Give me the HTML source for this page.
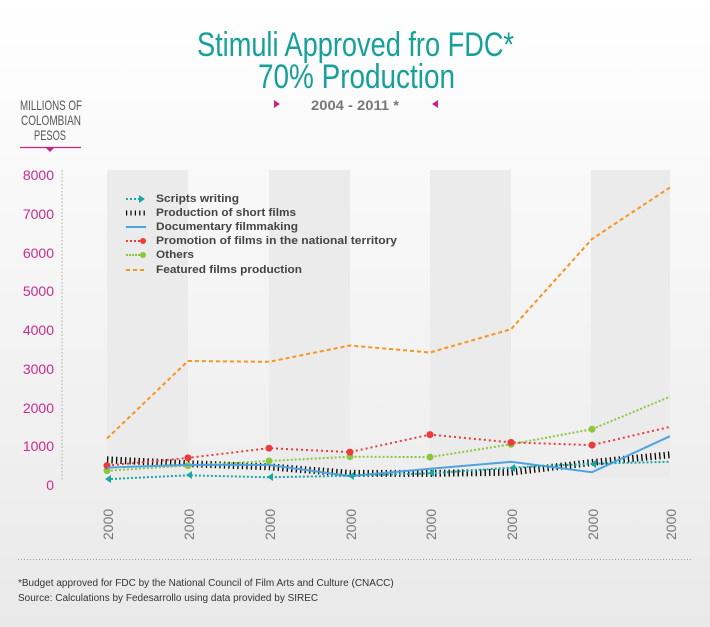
<!DOCTYPE html>
<html><head><meta charset="utf-8"><style>
html,body{margin:0;padding:0;}
body{width:710px;height:627px;overflow:hidden;background:linear-gradient(#ffffff 0%,#f6f6f6 40%,#e9e9e9 100%);font-family:"Liberation Sans",sans-serif;}
</style></head><body>
<svg width="710" height="627" xmlns="http://www.w3.org/2000/svg" style="position:absolute;left:0;top:0">
<text x="197" y="56" font-size="34" fill="#17a09a" textLength="317" lengthAdjust="spacingAndGlyphs">Stimuli Approved fro FDC*</text>
<text x="258" y="88" font-size="34" fill="#17a09a" textLength="197" lengthAdjust="spacingAndGlyphs">70% Production</text>
<text x="311" y="110" font-size="14" font-weight="bold" fill="#777" textLength="88" lengthAdjust="spacingAndGlyphs">2004 - 2011 *</text>
<polygon points="274,100 280,104 274,108" fill="#c8258a"/>
<polygon points="438,100 432,104 438,108" fill="#c8258a"/>
<g font-size="14" fill="#555">
<text x="20" y="110" textLength="62" lengthAdjust="spacingAndGlyphs">MILLIONS OF</text><text x="21" y="125" textLength="60" lengthAdjust="spacingAndGlyphs">COLOMBIAN</text><text x="34" y="140" textLength="32" lengthAdjust="spacingAndGlyphs">PESOS</text></g>
<line x1="20" y1="147.5" x2="81" y2="147.5" stroke="#c8258a" stroke-width="1.2"/>
<polygon points="46,148 54,148 50,152" fill="#c8258a"/>
<g fill="#ebebeb"><rect x="107" y="170" width="81" height="308"/><rect x="269" y="170" width="81" height="308"/><rect x="430" y="170" width="81" height="308"/><rect x="591" y="170" width="79" height="308"/></g>
<line x1="62" y1="170" x2="62" y2="480" stroke="#aaa" stroke-dasharray="1.5 2"/>
<g font-size="14" fill="#cc2a8c" text-anchor="end">
<text x="54" y="180">8000</text><text x="54" y="219">7000</text><text x="54" y="258">6000</text><text x="54" y="296">5000</text><text x="54" y="335">4000</text><text x="54" y="374">3000</text><text x="54" y="413">2000</text><text x="54" y="451">1000</text><text x="54" y="490">0</text></g>
<g font-size="14" fill="#777">
<text transform="translate(113,540) rotate(-90)">2000</text><text transform="translate(194,540) rotate(-90)">2000</text><text transform="translate(275,540) rotate(-90)">2000</text><text transform="translate(356,540) rotate(-90)">2000</text><text transform="translate(436,540) rotate(-90)">2000</text><text transform="translate(517,540) rotate(-90)">2000</text><text transform="translate(598,540) rotate(-90)">2000</text><text transform="translate(676,540) rotate(-90)">2000</text></g>
<polyline fill="none" stroke="#f7941d" stroke-width="2" stroke-dasharray="4 3" points="107,438.5 188,361 269,361.8 350,345.5 430,352.5 511,329.2 592,239 670,187.4"/>
<polyline fill="none" stroke="#000" stroke-width="7" stroke-dasharray="1.3 3.2" points="107,459.8 188,463.7 269,466.8 350,473.4 430,473.4 511,472.2 592,462.5 670,454.8"/>
<polyline fill="none" stroke="#8cc63f" stroke-width="2" stroke-dasharray="2 2" points="107,470.7 188,465.6 269,461 350,456.7 430,457.1 511,444.3 592,429.2 670,396.7"/>
<g fill="#8cc63f"><circle cx="107" cy="470.7" r="3.5"/><circle cx="188" cy="465.6" r="3.5"/><circle cx="269" cy="461" r="3.5"/><circle cx="350" cy="456.7" r="3.5"/><circle cx="430" cy="457.1" r="3.5"/><circle cx="511" cy="444.3" r="3.5"/><circle cx="592" cy="429.2" r="3.5"/></g>
<polyline fill="none" stroke="#ee3a3a" stroke-width="2" stroke-dasharray="2 3" points="107,465.6 188,457.9 269,448.2 350,452.1 430,434.6 511,442.4 592,445.1 670,426.9"/>
<g fill="#ee3a3a"><circle cx="107" cy="465.6" r="3.5"/><circle cx="188" cy="457.9" r="3.5"/><circle cx="269" cy="448.2" r="3.5"/><circle cx="350" cy="452.1" r="3.5"/><circle cx="430" cy="434.6" r="3.5"/><circle cx="511" cy="442.4" r="3.5"/><circle cx="592" cy="445.1" r="3.5"/></g>
<polyline fill="none" stroke="#4ea3e0" stroke-width="2" points="107,467.6 188,464.9 269,464.9 350,476.1 430,468.7 511,461.8 592,472.2 670,436.2"/>
<polyline fill="none" stroke="#1aa6a6" stroke-width="2" stroke-dasharray="2 2" points="107,479.2 188,475.3 269,477.3 350,475.7 430,473.4 511,467.6 592,463.7 670,461.8"/>
<g fill="#1aa6a6"><polygon points="111,475 111,483 105,479"/><polygon points="192,471 192,479 186,475"/><polygon points="273,473 273,481 267,477"/><polygon points="354,472 354,480 348,476"/><polygon points="434,469 434,477 428,473"/><polygon points="515,464 515,472 509,468"/><polygon points="596,460 596,468 590,464"/></g>
<g font-size="11" font-weight="bold" fill="#444">
<text x="156" y="202" textLength="83" lengthAdjust="spacingAndGlyphs">Scripts writing</text><text x="156" y="216" textLength="140" lengthAdjust="spacingAndGlyphs">Production of short films</text><text x="156" y="230" textLength="142" lengthAdjust="spacingAndGlyphs">Documentary filmmaking</text><text x="156" y="244" textLength="241" lengthAdjust="spacingAndGlyphs">Promotion of films in the national territory</text><text x="156" y="258" textLength="38" lengthAdjust="spacingAndGlyphs">Others</text><text x="156" y="273" textLength="146" lengthAdjust="spacingAndGlyphs">Featured films production</text></g>
<line x1="126" y1="199" x2="140" y2="199" stroke="#1aa6a6" stroke-width="2" stroke-dasharray="2 2"/><polygon points="139,195 145,199 139,203" fill="#1aa6a6"/>
<line x1="126" y1="213" x2="146" y2="213" stroke="#000" stroke-width="5" stroke-dasharray="1.2 3.2"/>
<line x1="126" y1="227" x2="146" y2="227" stroke="#4ea3e0" stroke-width="2"/>
<line x1="126" y1="241" x2="142" y2="241" stroke="#ee3a3a" stroke-width="2" stroke-dasharray="2 2"/><circle cx="143" cy="241" r="3" fill="#ee3a3a"/>
<line x1="126" y1="255" x2="142" y2="255" stroke="#8cc63f" stroke-width="2" stroke-dasharray="2 1"/><circle cx="143" cy="255" r="3" fill="#8cc63f"/>
<line x1="126" y1="270" x2="146" y2="270" stroke="#f7941d" stroke-width="2" stroke-dasharray="4 3"/>
<line x1="18" y1="559.5" x2="692" y2="559.5" stroke="#999" stroke-dasharray="1 2"/>
<g font-size="10" fill="#333"><text x="18" y="586">*Budget approved for FDC by the National Council of Film Arts and Culture (CNACC)</text><text x="18" y="601">Source: Calculations by Fedesarrollo using data provided by SIREC</text></g>
</svg>
</body></html>
